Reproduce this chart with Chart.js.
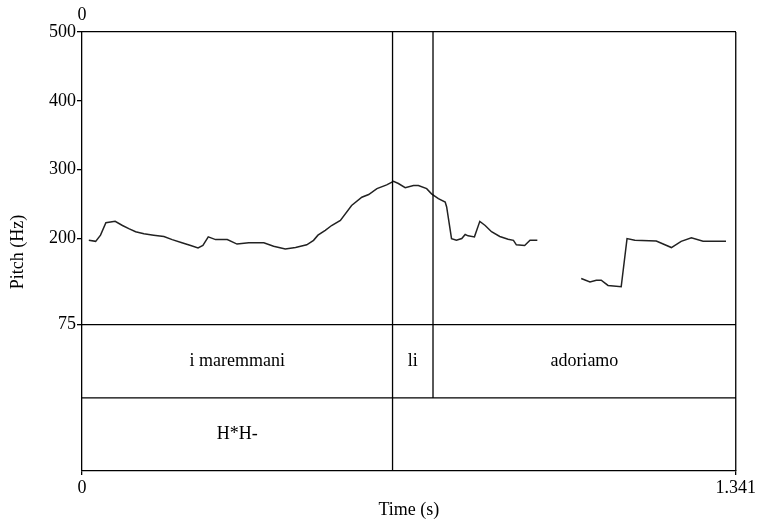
<!DOCTYPE html>
<html>
<head>
<meta charset="utf-8">
<script src="https://cdn.jsdelivr.net/npm/chart.js@4.4.0/dist/chart.umd.min.js"></script>
<style>
  body { margin: 0; background: #fff; }
  #wrap { width: 758px; height: 525px; }
</style>
</head>
<body>
<div id="wrap"><canvas id="pitch-chart" width="758" height="525"></canvas></div>
<script>
// pitch contour (s, Hz) - null = unvoiced gap
var times = [0.014, 0.028, 0.038, 0.049, 0.068, 0.083, 0.096, 0.110, 0.127, 0.147,
  0.168, 0.185, 0.205, 0.223, 0.238, 0.248, 0.259, 0.274, 0.298, 0.318,
  0.342, 0.373, 0.393, 0.417, 0.438, 0.461, 0.475, 0.484, 0.499, 0.512,
  0.530, 0.553, 0.574, 0.588, 0.605, 0.625, 0.639, 0.649, 0.663, 0.680,
  0.690, 0.707, 0.717, 0.731, 0.745, 0.748, 0.758, 0.768, 0.779, 0.786,
  0.792, 0.805, 0.816, 0.827, 0.840, 0.857, 0.874, 0.885, 0.891, 0.908,
  0.919, 0.934, 0.980,
  1.024, 1.042, 1.055, 1.065, 1.079, 1.106, 1.118, 1.134, 1.178, 1.209,
  1.229, 1.250, 1.274, 1.321];
var pitch = [197.5, 196, 205, 223, 225, 219, 214.5, 210, 207, 205,
  203, 198.5, 194, 190, 186.5, 190, 202.5, 198.5, 198.5, 192,
  194, 194, 189, 185, 187, 191, 197.5, 205, 212, 219,
  226.5, 248, 260, 264, 272.5, 278, 283, 280, 274, 277,
  277, 272.5, 265, 258, 253, 246, 200, 197.5, 200, 206,
  204, 202.5, 225, 219, 210, 203, 199, 197.5, 191, 190,
  197.5, 197.5, null,
  142, 137, 139.5, 139.5, 132, 130, 200, 197.5, 196.5, 187,
  196, 201, 196, 196];

var pitchTicks = [75, 200, 300, 400, 500];
var timeTicks = [0, 1.341];

// text grid tiers
var wordBounds = [0.637, 0.720];
var wordLabels = ["i maremmani", "li", "adoriamo"];
var toneBounds = [0.637];
var toneLabels = ["H*H-", ""];

var FONT = "'Liberation Serif', 'Times New Roman', serif";

var points = [];
for (var i = 0; i < times.length; i++) {
  points.push({ x: times[i], y: pitch[i] });
}

// boxes, boundaries and labels of the tiers
var textGrid = {
  id: "textGrid",
  afterDraw: function(chart) {
    var ctx = chart.ctx;
    var x = chart.scales.x;
    var tier = chart.scales.tier;
    var area = chart.chartArea;
    var row1 = tier.getPixelForValue(2);
    var row2 = tier.getPixelForValue(1);
    var row3 = tier.getPixelForValue(0);
    var tMax = timeTicks[timeTicks.length - 1];

    ctx.save();
    ctx.strokeStyle = "#000";
    ctx.lineWidth = 1.3;
    ctx.beginPath();
    ctx.moveTo(area.left, row1); ctx.lineTo(area.right, row1);
    ctx.moveTo(area.left, row2); ctx.lineTo(area.right, row2);
    ctx.moveTo(area.right, area.top); ctx.lineTo(area.right, area.bottom);
    for (var i = 0; i < wordBounds.length; i++) {
      var px = x.getPixelForValue(wordBounds[i]);
      ctx.moveTo(px, area.top); ctx.lineTo(px, row2);
    }
    for (var j = 0; j < toneBounds.length; j++) {
      var qx = x.getPixelForValue(toneBounds[j]);
      ctx.moveTo(qx, area.top); ctx.lineTo(qx, row3);
    }
    ctx.stroke();

    ctx.fillStyle = "#000";
    ctx.font = "18px " + FONT;
    ctx.textAlign = "center";
    ctx.textBaseline = "middle";
    drawLabels(ctx, x, [0].concat(wordBounds, [tMax]), wordLabels, (row1 + row2) / 2);
    drawLabels(ctx, x, [0].concat(toneBounds, [tMax]), toneLabels, (row2 + row3) / 2);

    // y title, Praat puts it a bit lower than the pitch axis middle
    ctx.translate(18, 252);
    ctx.rotate(-Math.PI / 2);
    ctx.fillText("Pitch (Hz)", 0, 0);
    ctx.restore();
  }
};

function drawLabels(ctx, x, edges, labels, y) {
  for (var i = 0; i < labels.length; i++) {
    var mid = (x.getPixelForValue(edges[i]) + x.getPixelForValue(edges[i + 1])) / 2;
    ctx.fillText(labels[i], mid, y);
  }
}

function ready() {
  var el = document.getElementById("pitch-chart");
  new Chart(el, {
    type: "line",
    data: {
      datasets: [
        {
          data: points,
          yAxisID: "y",
          xAxisID: "x",
          borderColor: "#222",
          borderWidth: 1.5,
          pointRadius: 0,
          spanGaps: false,
          tension: 0
        }
      ]
    },
    options: {
      responsive: false,
      animation: false,
      layout: { padding: { left: 42, right: 22, top: 0, bottom: 0 } },
      plugins: { legend: { display: false }, tooltip: { enabled: false } },
      scales: {
        x: {
          type: "linear",
          position: "bottom",
          min: 0,
          max: 1.341,
          afterBuildTicks: function(s) { s.ticks = timeTicks.map(function(v) { return { value: v }; }); },
          afterFit: function(s) { s.height = 54; },
          ticks: {
            color: "#000",
            font: { family: FONT, size: 18 },
            padding: 2,
            maxRotation: 0,
            callback: function(v) { return v === 0 ? "0" : v.toFixed(3); }
          },
          grid: { drawOnChartArea: false, tickLength: 4, color: "#000", lineWidth: 1.3 },
          border: { color: "#000", width: 1.3 },
          title: { display: true, text: "Time (s)", color: "#000", font: { family: FONT, size: 18 } }
        },
        xTop: {
          type: "linear",
          position: "top",
          min: 0,
          max: 1.341,
          afterBuildTicks: function(s) { s.ticks = [{ value: 0 }]; },
          afterFit: function(s) { s.height = 32; },
          ticks: { color: "#000", font: { family: FONT, size: 18 }, padding: 6 },
          grid: { drawOnChartArea: false, drawTicks: false },
          border: { color: "#000", width: 1.3 }
        },
        // tier axis first: the stack is placed in reverse order
        tier: {
          type: "linear",
          position: "left",
          stack: "praat",
          stackWeight: 1,
          min: 0,
          max: 2,
          afterFit: function(s) { s.width = 40; },
          ticks: { display: false },
          grid: { display: false },
          border: { color: "#000", width: 1.3 }
        },
        y: {
          type: "linear",
          position: "left",
          stack: "praat",
          stackWeight: 2,
          min: 75,
          max: 500,
          afterBuildTicks: function(s) { s.ticks = pitchTicks.map(function(v) { return { value: v }; }); },
          afterFit: function(s) { s.width = 40; },
          ticks: { color: "#000", font: { family: FONT, size: 18 }, padding: 1 },
          grid: { drawOnChartArea: false, tickLength: 5, color: "#000", lineWidth: 1.3 },
          border: { color: "#000", width: 1.3 }
        }
      }
    },
    plugins: [textGrid]
  });
}

document.addEventListener("DOMContentLoaded", ready);
</script>
</body>
</html>
